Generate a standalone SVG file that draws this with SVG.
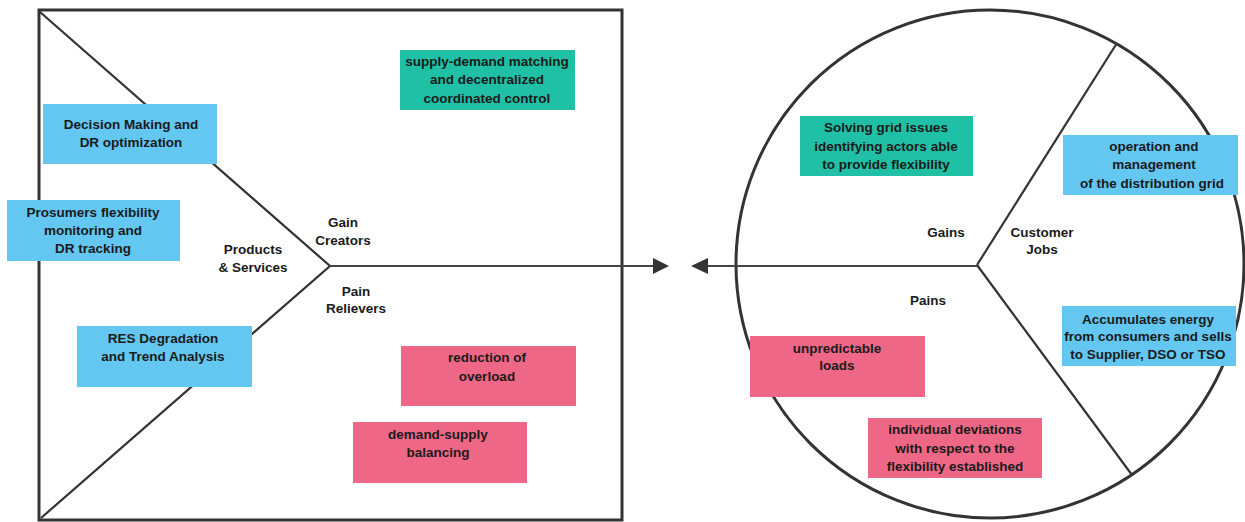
<svg xmlns="http://www.w3.org/2000/svg" width="1245" height="522" viewBox="0 0 1245 522">
  <style>
    .frame { fill: none; stroke: #333; stroke-width: 3; }
    .div { fill: none; stroke: #333; stroke-width: 2.2; }
    .conn { fill: none; stroke: #444; stroke-width: 2.2; }
    .head { fill: #333; }
    text { font-family: "Liberation Sans", Arial, sans-serif; font-weight: bold; font-size: 13.5px; fill: #1a1a1a; text-anchor: middle; }
    .teal { fill: #1fc0a6; }
    .blue { fill: #63c7f1; }
    .pink { fill: #ef6787; }
  </style>

  <!-- value proposition square -->
  <g id="value-map">
    <rect class="frame" x="39" y="10" width="583" height="510"/>
    <polyline class="div" points="40,12 330,266 41,518"/>
    <text x="343" y="227">Gain</text>
    <text x="343" y="245">Creators</text>
    <text x="253" y="254">Products</text>
    <text x="253" y="272">&amp; Services</text>
    <text x="356" y="296">Pain</text>
    <text x="356" y="313">Relievers</text>
  </g>

  <!-- customer profile circle -->
  <g id="customer-profile">
    <circle class="frame" cx="990" cy="264" r="254"/>
    <line class="div" x1="977" y1="265" x2="1117" y2="43"/>
    <line class="div" x1="977" y1="265" x2="1132" y2="475"/>
    <text x="946" y="237">Gains</text>
    <text x="1042" y="237">Customer</text>
    <text x="1042" y="254">Jobs</text>
    <text x="928" y="305">Pains</text>
  </g>

  <!-- fit connectors -->
  <g id="connectors">
    <line class="conn" x1="330" y1="266" x2="654" y2="266"/>
    <polygon class="head" points="653,258 669,266 653,274"/>
    <line class="conn" x1="707" y1="266" x2="977" y2="266"/>
    <polygon class="head" points="708,258 691,266 708,274"/>
  </g>

  <!-- gain creators -->
  <g id="supply-demand-matching">
    <rect class="teal" x="400" y="50" width="175" height="60"/>
    <text x="487" y="65.5">supply-demand matching</text>
    <text x="487" y="84">and decentralized</text>
    <text x="487" y="102.5">coordinated control</text>
  </g>

  <!-- products & services -->
  <g id="decision-making">
    <rect class="blue" x="43" y="104" width="174" height="60"/>
    <text x="131" y="129">Decision Making and</text>
    <text x="131" y="147">DR optimization</text>
  </g>
  <g id="prosumers-flexibility">
    <rect class="blue" x="7" y="200" width="173" height="61"/>
    <text x="93" y="217">Prosumers flexibility</text>
    <text x="93" y="235">monitoring and</text>
    <text x="93" y="253">DR tracking</text>
  </g>
  <g id="res-degradation">
    <rect class="blue" x="77" y="326" width="175" height="61"/>
    <text x="163" y="343">RES Degradation</text>
    <text x="163" y="361">and Trend Analysis</text>
  </g>

  <!-- pain relievers -->
  <g id="reduction-of-overload">
    <rect class="pink" x="401" y="346" width="175" height="60"/>
    <text x="487" y="362">reduction of</text>
    <text x="487" y="381">overload</text>
  </g>
  <g id="demand-supply-balancing">
    <rect class="pink" x="353" y="422" width="174" height="61"/>
    <text x="438" y="439">demand-supply</text>
    <text x="438" y="457">balancing</text>
  </g>

  <!-- gains -->
  <g id="solving-grid-issues">
    <rect class="teal" x="800" y="116" width="173" height="60"/>
    <text x="886" y="132">Solving grid issues</text>
    <text x="886" y="151">identifying actors able</text>
    <text x="886" y="169">to provide flexibility</text>
  </g>

  <!-- customer jobs -->
  <g id="grid-operation">
    <rect class="blue" x="1063" y="135" width="175" height="60"/>
    <text x="1154" y="151">operation and</text>
    <text x="1154" y="169">management</text>
    <text x="1152" y="188">of the distribution grid</text>
  </g>
  <g id="accumulates-energy">
    <rect class="blue" x="1062" y="306" width="174" height="60"/>
    <text x="1148" y="324">Accumulates energy</text>
    <text x="1148" y="341">from consumers and sells</text>
    <text x="1148" y="359">to Supplier, DSO or TSO</text>
  </g>

  <!-- pains -->
  <g id="unpredictable-loads">
    <rect class="pink" x="750" y="336" width="175" height="61"/>
    <text x="837" y="352.5">unpredictable</text>
    <text x="837" y="370">loads</text>
  </g>
  <g id="individual-deviations">
    <rect class="pink" x="868" y="418" width="174" height="60"/>
    <text x="955" y="434">individual deviations</text>
    <text x="955" y="453">with respect to the</text>
    <text x="955" y="471">flexibility established</text>
  </g>
</svg>
